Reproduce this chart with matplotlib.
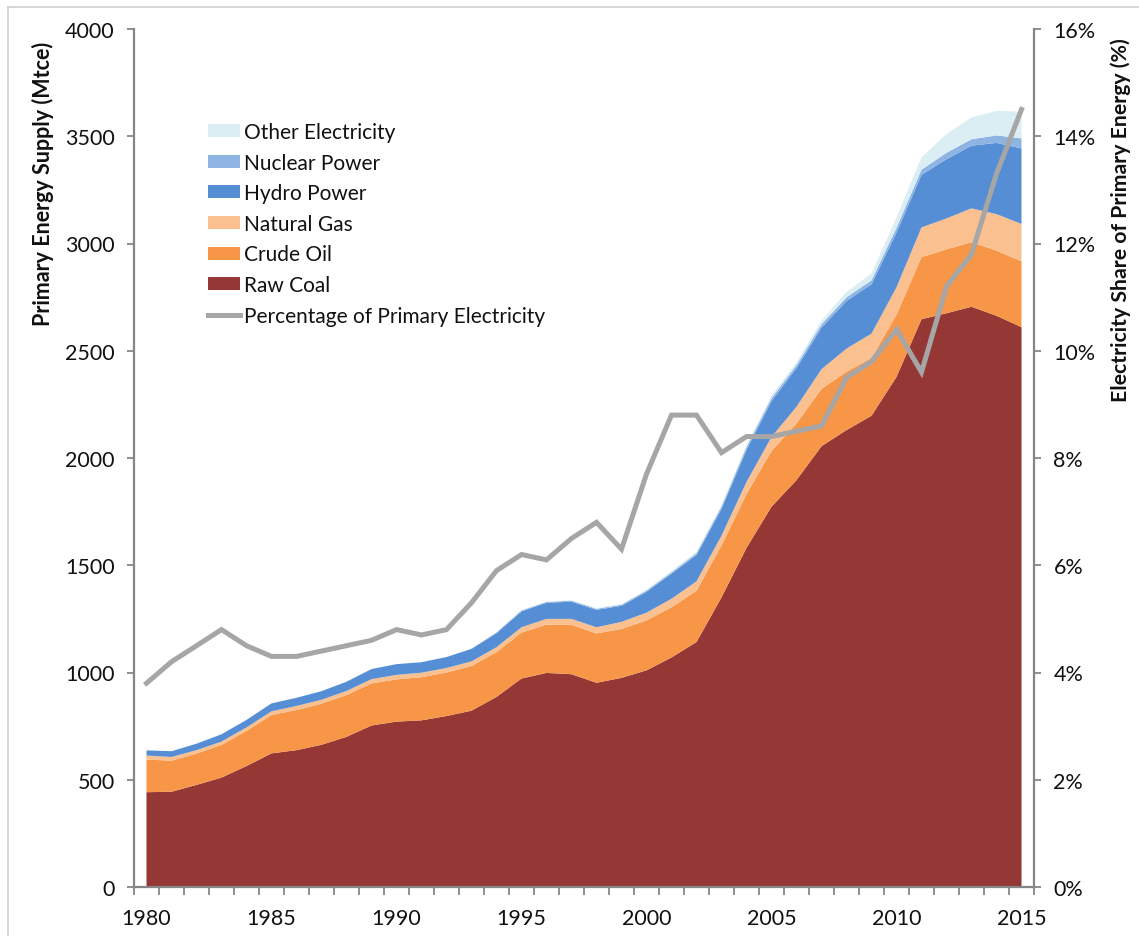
import matplotlib
matplotlib.use("Agg")
import matplotlib.pyplot as plt
from matplotlib.patches import Patch
from matplotlib.lines import Line2D
import numpy as np

years = list(range(1980, 2016))

raw_coal = [442, 444, 476, 510, 564, 623, 638, 663, 700, 753,
            771, 777, 797, 822, 886, 972, 998, 992, 952, 975,
            1010, 1070, 1142, 1350, 1581, 1773, 1897, 2055, 2130, 2197,
            2378, 2647, 2675, 2705, 2663, 2610]
crude_oil = [152, 145, 146, 152, 164, 179, 187, 192, 195, 196,
             197, 201, 203, 208, 209, 214, 225, 230, 230, 228,
             233, 234, 239, 242, 251, 259, 264, 267, 272, 269,
             290, 289, 298, 301, 304, 307]
natural_gas = [19, 17, 16, 16, 16, 17, 19, 18, 19, 20,
               21, 21, 21, 22, 23, 25, 27, 28, 29, 33,
               36, 40, 44, 46, 56, 66, 78, 92, 108, 114,
               128, 139, 144, 158, 170, 174]
hydro_power = [24, 27, 30, 34, 35, 37, 38, 40, 43, 47,
               50, 49, 51, 58, 65, 74, 75, 80, 81, 75,
               97, 117, 123, 125, 150, 167, 180, 193, 222, 230,
               255, 245, 276, 292, 332, 352]
nuclear_power = [0, 0, 0, 0, 0, 0, 0, 0, 0, 0,
                 0, 0, 0, 1, 4, 4, 4, 5, 5, 5,
                 6, 6, 8, 11, 13, 14, 14, 16, 17, 18,
                 22, 24, 30, 30, 35, 47]
other_electricity = [0, 0, 0, 0, 0, 0, 0, 0, 0, 0,
                     0, 0, 0, 0, 1, 2, 2, 2, 2, 3,
                     4, 7, 7, 8, 10, 11, 14, 18, 25, 32,
                     48, 58, 87, 102, 114, 125]
elec_share = [3.8, 4.2, 4.5, 4.8, 4.5, 4.3, 4.3, 4.4, 4.5, 4.6,
              4.8, 4.7, 4.8, 5.3, 5.9, 6.2, 6.1, 6.5, 6.8, 6.3,
              7.7, 8.8, 8.8, 8.1, 8.4, 8.4, 8.5, 8.6, 9.5, 9.8,
              10.4, 9.6, 11.2, 11.8, 13.3, 14.5]

series_names = ["Raw Coal", "Crude Oil", "Natural Gas", "Hydro Power",
                "Nuclear Power", "Other Electricity"]
colors = ["#953735", "#F79646", "#FAC090", "#558ED5", "#8EB4E3", "#DBEEF4"]
line_name = "Percentage of Primary Electricity"
line_color = "#A6A6A6"
left_label = "Primary Energy Supply (Mtce)"
right_label = "Electricity Share of Primary Energy (%)"

FONT = ["Lato", "DejaVu Sans"]
plt.rcParams["font.family"] = FONT
W, H = 1139, 937
fig = plt.figure(figsize=(W / 100, H / 100), dpi=100)
L, R, B, T = 134, 1034, 888, 30
ax = fig.add_axes([L / W, 1 - B / H, (R - L) / W, (B - T) / H])

ax.stackplot(years, raw_coal, crude_oil, natural_gas, hydro_power,
             nuclear_power, other_electricity, colors=colors,
             linewidth=0.6, edgecolor="none")

ax2 = ax.twinx()
ax2.plot(years, elec_share, color=line_color, linewidth=3.6,
         solid_joinstyle="miter")

ax.set_xlim(1979.5, 2015.5)
ax.set_ylim(0, 4000)
ax2.set_ylim(0, 16)

spine_c = "#868686"
txt_c = "#111111"
for a in (ax, ax2):
    for s in a.spines.values():
        s.set_visible(False)
ax.spines["left"].set_visible(True)
ax.spines["bottom"].set_visible(True)
ax2.spines["right"].set_visible(True)
for s in (ax.spines["left"], ax.spines["bottom"], ax2.spines["right"]):
    s.set_color(spine_c)
    s.set_linewidth(1.6)

TS = 15.5
ax.set_yticks(np.arange(0, 4001, 500))
ax.tick_params(axis="y", direction="out", length=5, width=1.3, color=spine_c,
               labelsize=TS, pad=9, labelcolor=txt_c)
ax2.set_yticks(np.arange(0, 16.1, 2))
ax2.set_yticklabels([f"{int(v)}%" for v in np.arange(0, 16.1, 2)])
ax2.tick_params(axis="y", direction="out", length=5, width=1.3, color=spine_c,
                labelsize=TS, pad=9, labelcolor=txt_c)

ax.set_xticks(np.arange(1980, 2016, 5))
ax.set_xticks(np.arange(1979.5, 2016, 1), minor=True)
ax.tick_params(axis="x", which="major", length=0, labelsize=TS, pad=15,
               labelcolor=txt_c)
ax.tick_params(axis="x", which="minor", direction="out", length=6, width=1.3,
               color=spine_c)

fig.text(43 / W, 1 - 42 / H, left_label, rotation=90, ha="center", va="top",
         fontsize=15.5, fontweight="bold", color=txt_c)
fig.text(1121 / W, 1 - 38 / H, right_label, rotation=90, ha="center",
         va="top", fontsize=15.3, fontweight="bold", color=txt_c)

handles = []
for name, c in reversed(list(zip(series_names, colors))):
    handles.append(Patch(facecolor=c, edgecolor="none", label=name))
handles.append(Line2D([0], [0], color=line_color, linewidth=3.6,
                      label=line_name))
leg = ax.legend(handles=handles, loc="upper left",
                bbox_to_anchor=((208 - L) / (R - L), (B - 123) / (B - T)),
                frameon=False, fontsize=15, handlelength=1.55,
                handleheight=0.58, handletextpad=0.2, labelspacing=0.51,
                borderpad=0, borderaxespad=0)
for t in leg.get_texts():
    t.set_color(txt_c)

ax2.set_zorder(ax.get_zorder() + 1)

# outer frame lines (top & left)
fig.add_artist(Line2D([8 / W, 1], [1 - 8 / H, 1 - 8 / H], color="#D0D0D0",
                      linewidth=1.2, transform=fig.transFigure))
fig.add_artist(Line2D([8 / W, 8 / W], [0, 1 - 8 / H], color="#D0D0D0",
                      linewidth=1.2, transform=fig.transFigure))

fig.savefig("out.png", dpi=100)
